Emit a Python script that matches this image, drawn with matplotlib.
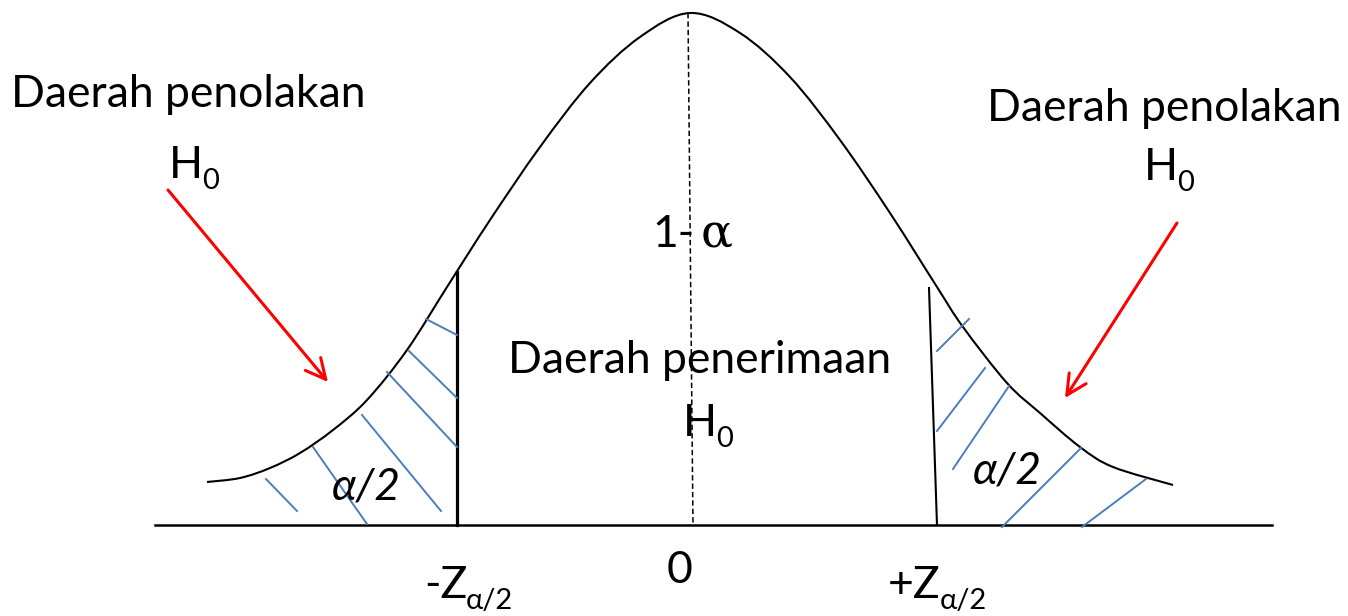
import matplotlib
matplotlib.use('Agg')
import matplotlib.pyplot as plt
from matplotlib.path import Path
from matplotlib.patches import PathPatch
import numpy as np

# points (canvas px, y grows downward)
curve_x = [207, 240, 270, 300, 333, 367, 407, 447, 490, 540, 590, 640, 690,
           740, 790, 840, 890, 937, 963, 1007, 1040, 1080, 1113, 1173]
curve_y = [482, 478, 468, 453, 430, 400, 350, 287, 220, 147, 83, 37, 13,
           33, 77, 140, 213, 287, 327, 383, 413, 447, 467, 485]

base_y = 525
base_x = [155, 1272]
crit_left = [(457, 272), (457, 525)]
crit_right = [(929, 288), (937, 525)]
center_line = [(688, 13), (693, 525)]

hatch_left = [((426, 319), (457, 335)), ((409, 351), (457, 398)), ((387, 372), (457, 447)),
              ((362, 415), (441, 511)), ((313, 447), (367, 524)), ((266, 479), (297, 511))]
hatch_right = [((937, 351), (969, 319)), ((937, 431), (985, 368)), ((953, 469), (1009, 386)),
               ((1002, 527), (1081, 448)), ((1082, 527), (1146, 479))]

arrows = [((168, 190), (328, 382)), ((1177, 223), (1065, 398))]

FONT = ['Lato', 'DejaVu Sans']
BLUE = '#4a7ebb'


def smooth_path(xs, ys):
    # catmull-rom through the read points, drawn as bezier segments
    pts = np.column_stack([xs, ys]).astype(float)
    verts = [pts[0]]
    codes = [Path.MOVETO]
    n = len(pts)
    for i in range(n - 1):
        p0 = pts[max(i - 1, 0)]
        p1 = pts[i]
        p2 = pts[i + 1]
        p3 = pts[min(i + 2, n - 1)]
        verts += [p1 + (p2 - p0) / 6, p2 - (p3 - p1) / 6, p2]
        codes += [Path.CURVE4] * 3
    return Path(verts, codes)


fig = plt.figure(figsize=(13.48, 6.16), dpi=100)
ax = fig.add_axes([0, 0, 1, 1])
ax.set_xlim(0, 1348)
ax.set_ylim(616, 0)
ax.axis('off')

ax.add_patch(PathPatch(smooth_path(curve_x, curve_y), fill=False, lw=1.5, ec='black'))
ax.plot(base_x, [base_y, base_y], color='black', lw=1.8)

(x0, y0), (x1, y1) = crit_left
ax.plot([x0, x1], [y0, y1], color='black', lw=2.3)
(x0, y0), (x1, y1) = crit_right
ax.plot([x0, x1], [y0, y1], color='black', lw=1.5)
(x0, y0), (x1, y1) = center_line
ax.plot([x0, x1], [y0, y1], color='black', lw=1.1, ls=(0, (3.5, 2)))

for (a, b) in hatch_left + hatch_right:
    ax.plot([a[0], b[0]], [a[1], b[1]], color=BLUE, lw=1.4)

for start, end in arrows:
    ax.annotate('', xy=end, xytext=start,
                arrowprops=dict(arrowstyle='->,head_length=0.8,head_width=0.4',
                                color='red', lw=2.2, mutation_scale=18,
                                shrinkA=0, shrinkB=0))

fs = 32
sub = 21


def with_sub(x, y, main, subtxt, ha='left'):
    t = ax.text(x, y, main, fontsize=fs, family=FONT, ha=ha, va='baseline')
    ax.annotate(subtxt, xy=(1, 0), xycoords=t, xytext=(-1, -2), textcoords='offset points',
                fontsize=sub, family=FONT, ha='left', va='baseline')


ax.text(188, 107, 'Daerah penolakan', fontsize=fs, family=FONT, ha='center', va='baseline')
with_sub(169, 178, 'H', '0')
ax.text(1164, 121, 'Daerah penolakan', fontsize=fs, family=FONT, ha='center', va='baseline')
with_sub(1144, 180, 'H', '0')
ax.text(700, 373, 'Daerah penerimaan', fontsize=fs, family=FONT, ha='center', va='baseline')
with_sub(683, 436, 'H', '0')

ax.text(652, 247, '1-', fontsize=fs, family=FONT, ha='left', va='baseline')
ax.text(701, 247, 'α', fontsize=fs + 2, family=['DejaVu Serif'], ha='left', va='baseline')

ax.text(366, 500, 'α/2', fontsize=fs, family=FONT, style='italic', ha='center', va='baseline')
ax.text(1007, 484, 'α/2', fontsize=fs, family=FONT, style='italic', ha='center', va='baseline')

ax.text(680, 583, '0', fontsize=fs, family=FONT, ha='center', va='baseline')
with_sub(424, 598, '-Z', 'α/2')
with_sub(888, 598, '+Z', 'α/2')

fig.savefig('out.png', dpi=100)
